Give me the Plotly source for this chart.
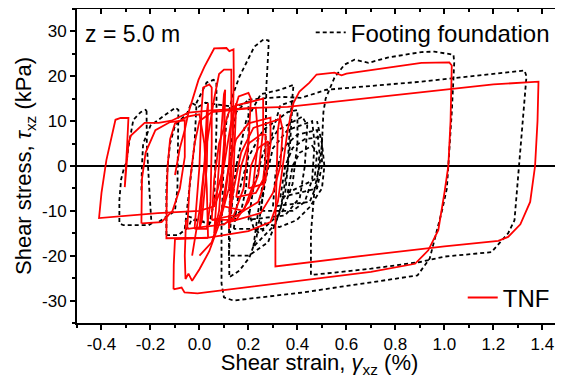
import plotly.graph_objects as go

# ---------------- data (strain %, stress kPa) ----------------
x_tick_vals = [-0.4, -0.2, 0.0, 0.2, 0.4, 0.6, 0.8, 1.0, 1.2, 1.4]
x_tick_text = ["-0.4", "-0.2", "0.0", "0.2", "0.4", "0.6", "0.8", "1.0", "1.2", "1.4"]
y_tick_vals = [-30, -20, -10, 0, 10, 20, 30]
y_tick_text = ["-30", "-20", "-10", "0", "10", "20", "30"]

footing_outer = [
    [(0.2, 14.8), (0.335, 15.4), (0.416, 15.2), (0.518, 17.0), (0.906, 18.8), (1.2, 20.6), (1.327, 21.3),
     (1.335, 20), (1.32, 10), (1.306, 0), (1.302, -3.1), (1.286, -12.1), (1.26, -15), (1.233, -16.6),
     (1.192, -19.2), (1.0, -20.2), (0.9, -21.4), (0.7, -22.9), (0.5, -24.0), (0.455, -24.3), (0.455, -15),
     (0.47, -5), (0.49, 0), (0.5, 5), (0.506, 12), (0.515, 15), (0.527, 16.6), (0.551, 19.7), (0.592, 22.6),
     (0.633, 23.7), (0.69, 23.0), (0.771, 24.2), (0.906, 25.4), (0.959, 25.5), (1.037, 24.8), (1.04, 23),
     (1.03, 12), (1.016, 0), (1.01, -5), (0.99, -10), (0.965, -15), (0.94, -20.6), (0.89, -24.4),
     (0.7, -26.0), (0.42, -28.2), (0.2, -29.6), (0.139, -30.0), (0.10, -29.3), (0.09, -26.2), (0.09, -13.6),
     (0.095, -5), (0.1, 3), (0.11, 10), (0.139, 16.3), (0.163, 19.9), (0.192, 23), (0.224, 26.6),
     (0.261, 28.2), (0.282, 28), (0.282, 26.6), (0.273, 17.7), (0.27, 5), (0.262, -5), (0.25, -10),
     (0.233, -15.9), (0.204, -20.4), (0.163, -23.3), (0.122, -24.8), (0.12, -16), (0.125, -5), (0.13, 5),
     (0.15, 12), (0.2, 14.8)],
    [(-0.216, 12.3), (-0.215, 5), (-0.205, -5), (-0.2, -11), (-0.196, -12.8), (-0.208, -13.2), (-0.31, -13.2),
     (-0.327, -12.8), (-0.327, -7.6), (-0.32, -3), (-0.306, 0), (-0.298, 0.7), (-0.29, 4.3), (-0.27, 10.3),
     (-0.24, 12.0), (-0.22, 12.5), (-0.216, 12.3)],
    [(-0.237, -5.4), (-0.235, 0), (-0.23, 5), (-0.2, 9), (-0.15, 11), (-0.098, 13), (-0.086, 12.5),
     (-0.088, 5), (-0.09, -5), (-0.1, -10), (-0.167, -12.5)],
    [(-0.135, -15.4), (-0.135, -5), (-0.13, 0), (-0.12, 5), (-0.1, 9), (-0.05, 11.8), (-0.033, 14.1),
     (-0.004, 13.2), (0.024, 14.1), (0.14, 13.2), (0.2, 14.2), (0.2, 5), (0.19, -5), (0.17, -10), (0.1, -13),
     (-0.033, -12), (-0.045, -13.6), (-0.086, -15.4), (-0.135, -15.4)],
    [(-0.06, -14), (-0.04, -5), (-0.02, 5), (-0.012, 14.1), (0.029, 18.6), (0.057, 19.2), (0.069, 18.8),
     (0.07, 10), (0.065, 0), (0.06, -8), (0.04, -13), (-0.057, -11)],
]

footing_inner = [
    [(0.2, -12), (0.22, -5), (0.26, 3), (0.32, 8), (0.42, 11), (0.44, 9), (0.43, 0), (0.41, -7), (0.35, -11), (0.2, -12)],
    [(0.25, -10), (0.27, -3), (0.3, 4), (0.36, 8), (0.46, 10), (0.47, 5), (0.46, -3), (0.43, -8), (0.38, -10), (0.25, -10)],
    [(0.3, -9), (0.31, -2), (0.34, 4), (0.4, 7), (0.48, 8), (0.49, 3), (0.48, -4), (0.45, -8), (0.3, -9)],
    [(0.33, -7), (0.35, 0), (0.38, 4), (0.43, 6), (0.5, 6.5), (0.5, 0), (0.48, -5), (0.33, -7)],
    [(0.36, -6), (0.38, 0), (0.41, 3), (0.46, 4.5), (0.48, 3), (0.47, -3), (0.36, -6)],
    [(0.14, -14), (0.16, -6), (0.2, 2), (0.26, 8), (0.36, 12), (0.4, 12.5), (0.4, 5), (0.38, -4), (0.34, -10), (0.26, -14), (0.14, -14)],
    [(0.22, -18), (0.24, -10), (0.27, 0), (0.3, 8), (0.33, 13.5), (0.38, 14.5), (0.37, 5), (0.35, -6), (0.31, -13), (0.22, -18)],
    [(0.2, -10), (0.22, -13.6), (0.24, -14.8), (0.261, -14.3), (0.25, -12.5), (0.327, -13.6), (0.396, -12.1),
     (0.449, -9.2), (0.5, -5), (0.51, 0), (0.5, 5), (0.48, 10)],
    [(0.12, -20), (0.13, -10), (0.15, 0), (0.19, 10), (0.25, 16), (0.33, 17), (0.384, 18.1), (0.37, 10), (0.36, 0),
     (0.33, -10), (0.28, -17), (0.2, -20), (0.12, -20)],
]

tnf_outer = [
    [(0.10, 13.0), (0.105, 5), (0.09, -5), (0.06, -9), (0.0, -10.0), (-0.17, -10.5), (-0.41, -11.6), (-0.40, -6),
     (-0.38, 1.3), (-0.363, 5.8), (-0.343, 10.3), (-0.322, 10.7), (-0.29, 10.7), (-0.295, 5), (-0.30, 0),
     (-0.305, -4.7), (-0.298, 0), (-0.29, 5), (-0.28, 6.8), (-0.224, 9.6), (-0.167, 9.6), (-0.114, 10.1),
     (-0.045, 11.9), (0.05, 12.4), (0.2, 12.9), (0.36, 13.2), (0.8, 15.9), (1.2, 18.2), (1.384, 18.8),
     (1.38, 10), (1.37, 0), (1.35, -8), (1.31, -13), (1.26, -15.8), (1.22, -16.7), (1.0, -17.9), (0.7, -19.8),
     (0.5, -21.1), (0.31, -22.4), (0.31, -12), (0.315, 0), (0.32, 8), (0.33, 11.5)],
    [(-0.106, -27.5), (-0.105, -22), (-0.10, -16.3), (0.03, -16.0), (0.2, -14.5), (0.29, -12.5), (0.32, -8),
     (0.34, 0), (0.36, 8), (0.384, 14.1), (0.408, 16.6), (0.449, 18.6), (0.478, 20.4), (0.551, 20.8),
     (0.58, 20.2), (0.6, 20.6), (0.906, 23.0), (1.02, 23.1), (1.03, 22.4), (1.025, 10), (1.016, 0), (1.0, -6),
     (0.975, -14.3), (0.934, -18.8), (0.88, -21.8), (0.7, -23.6), (0.416, -25.5), (-0.008, -28.4),
     (-0.061, -28.2), (-0.073, -27.1), (-0.106, -27.5)],
    [(-0.10, -2), (-0.08, 4), (-0.06, 8), (-0.045, 11.9), (-0.004, 19.2), (0.02, 22.1), (0.06, 26.2),
     (0.11, 26.3), (0.122, 25.6), (0.139, 26.0), (0.14, 20), (0.135, 5), (0.12, -5), (0.08, -13), (0.04, -19),
     (0.0, -23), (-0.03, -25.6), (-0.045, -24.0), (-0.057, -25.2), (-0.06, -20), (-0.055, -12)],
    [(-0.237, -12.8), (-0.235, -3), (-0.22, 3), (-0.18, 8), (-0.12, 9.8), (-0.06, 10.2), (-0.06, 2), (-0.08, -5),
     (-0.11, -10), (-0.155, -12.5), (-0.237, -12.8)],
    [(0.035, -16.0), (-0.135, -16.1), (-0.134, -8), (-0.13, 0), (-0.12, 6), (-0.1, 9.5), (-0.05, 11), (0.0, 11.5),
     (0.02, 5), (0.03, -5), (0.035, -16.0)],
]

tnf_inner = [
    [(-0.03, -20), (0.0, -10), (0.03, 5), (0.06, 15), (0.08, 20.5), (0.1, 21.5), (0.13, 21.5), (0.13, 10), (0.12, 0), (0.09, -10), (0.05, -17), (0.0, -20)],
    [(-0.02, -14), (0.0, 0), (0.008, 12), (0.015, 17.5), (0.04, 18.2), (0.05, 17.5), (0.05, 5), (0.045, -8), (0.03, -14), (-0.02, -14)],
    [(0.05, -10), (0.1, 0), (0.13, 10), (0.16, 15.5), (0.2, 16.3), (0.21, 15), (0.2, 5), (0.18, -5), (0.14, -11), (0.05, -12)],
    [(0.12, -12.5), (0.14, -5), (0.17, 3), (0.22, 8.5), (0.33, 10.5), (0.34, 8), (0.33, 0), (0.3, -6), (0.25, -10.5), (0.12, -12.5)],
    [(0.10, -9), (0.12, 0), (0.15, 6), (0.2, 9.5), (0.29, 10.8), (0.29, 5), (0.27, -3), (0.24, -8), (0.18, -10), (0.10, -9)],
    [(0.15, -7), (0.17, 0), (0.2, 5), (0.25, 7), (0.27, 7), (0.27, 2), (0.26, -3), (0.23, -6), (0.15, -7)],
    [(0.2, -5), (0.21, 0), (0.24, 4), (0.28, 5.5), (0.28, 0), (0.26, -4), (0.2, -5)],
    [(0.05, -12), (0.06, -3), (0.08, 5), (0.12, 12), (0.15, 13.5), (0.26, 15), (0.26, 8), (0.24, -2), (0.2, -8), (0.15, -12), (0.05, -12)],
    [(-0.05, -14), (-0.04, -4), (-0.02, 5), (0.0, 10), (0.05, 12), (0.23, 13), (0.24, 6), (0.22, -4), (0.18, -10), (0.1, -13), (-0.05, -14)],
    [(0.0, -14), (0.02, 0), (0.03, 12), (0.035, 14), (0.03, 0), (0.01, -12), (0.0, -14)],
    [(0.06, -15), (0.08, 0), (0.1, 16), (0.105, 17), (0.1, 5), (0.08, -10), (0.06, -15)],
    [(0.12, -14), (0.13, 0), (0.14, 12), (0.15, 14), (0.14, 0), (0.125, -12), (0.12, -14)],
]


def build(*groups):
    xs, ys = [], []
    for group in groups:
        for loop in group:
            for x, y in loop:
                xs.append(x)
                ys.append(y)
            xs.append(None)
            ys.append(None)
    return xs, ys


FONT = "Liberation Sans, Arial, sans-serif"
fx, fy = build(footing_outer, footing_inner)
tx, ty = build(tnf_outer, tnf_inner)

fig = go.Figure()
fig.add_trace(go.Scatter(x=fx, y=fy, mode="lines", name="Footing foundation",
                         line=dict(color="black", width=1.8, dash="4px,3px"),
                         legend="legend", connectgaps=False))
fig.add_trace(go.Scatter(x=tx, y=ty, mode="lines", name="TNF",
                         line=dict(color="#ff0000", width=1.8),
                         legend="legend2", connectgaps=False))
fig.add_trace(go.Scatter(x=[None], y=[None], xaxis="x2", yaxis="y2", showlegend=False, hoverinfo="skip"))

x_range = [-0.5, 1.48]
y_range = [-35, 35]

# the page body adds an 8px offset, so the figure is sized to the visible area
fig.update_layout(
    width=555, height=370,
    margin=dict(l=69, r=1, t=1, b=55, autoexpand=False),
    paper_bgcolor="white", plot_bgcolor="white",
    font=dict(family=FONT, color="black"),
    xaxis=dict(range=x_range, tickmode="array", tickvals=x_tick_vals, ticktext=x_tick_text,
               ticks="outside", ticklen=5, tickwidth=1.5, tickcolor="black", automargin=False,
               minor=dict(dtick=0.1, tick0=0, ticks="outside", ticklen=3, tickwidth=1.5, tickcolor="black"),
               showline=True, linecolor="black", linewidth=2, mirror=True,
               showgrid=False, zeroline=False, tickfont=dict(size=17),
               title=dict(text="Shear strain, <i>γ</i><sub>xz</sub> (%)", font=dict(size=22), standoff=0)),
    yaxis=dict(range=y_range, tickmode="array", tickvals=y_tick_vals, ticktext=y_tick_text,
               ticks="outside", ticklen=5, tickwidth=1.5, tickcolor="black", automargin=False,
               minor=dict(dtick=5, tick0=0, ticks="outside", ticklen=3, tickwidth=1.5, tickcolor="black"),
               showline=True, linecolor="black", linewidth=2, mirror=True,
               showgrid=False, zeroline=True, zerolinecolor="black", zerolinewidth=2,
               tickfont=dict(size=17),
               title=dict(text="Shear stress, <i>τ</i><sub>xz</sub> (kPa)", font=dict(size=22), standoff=4)),
    xaxis2=dict(range=x_range, overlaying="x", side="top", tickmode="array", tickvals=x_tick_vals,
                showticklabels=False, ticks="inside", ticklen=5, tickwidth=1.5, tickcolor="black", automargin=False,
                minor=dict(dtick=0.1, tick0=0, ticks="inside", ticklen=3, tickwidth=1.5, tickcolor="black"),
                showline=False, showgrid=False, zeroline=False),
    yaxis2=dict(range=y_range, overlaying="y", side="right", tickmode="array", tickvals=y_tick_vals,
                showticklabels=False, ticks="inside", ticklen=5, tickwidth=1.5, tickcolor="black", automargin=False,
                minor=dict(dtick=5, tick0=0, ticks="inside", ticklen=3, tickwidth=1.5, tickcolor="black"),
                showline=False, showgrid=False, zeroline=False),
    legend=dict(x=0.985, y=0.924, xanchor="right", yanchor="middle", bgcolor="rgba(0,0,0,0)",
                font=dict(size=24, family=FONT), borderwidth=0),
    legend2=dict(x=0.985, y=0.08, xanchor="right", yanchor="middle", bgcolor="rgba(0,0,0,0)",
                 font=dict(size=24, family=FONT), borderwidth=0),
    annotations=[dict(text="z = 5.0 m", xref="paper", yref="paper", x=0.012, y=0.92,
                      xanchor="left", yanchor="middle", showarrow=False, font=dict(size=23, family=FONT))],
    showlegend=True,
)

fig.write_html("out.html")
